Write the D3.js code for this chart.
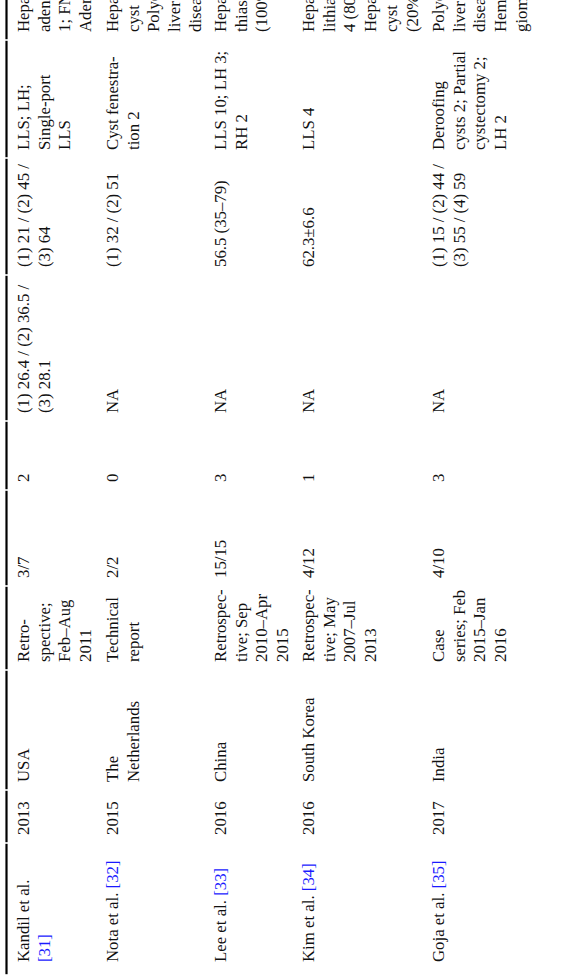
<!DOCTYPE html>
<html>
<head>
<meta charset="utf-8">
<script src="https://cdn.jsdelivr.net/npm/d3@7"></script>
<style>
  body { margin: 0; background: #fff; }
  svg { display: block; }
</style>
</head>
<body>
<svg id="table"></svg>
<script>
const width = 572;
const height = 975;

// table content, one entry per study (cells are lists of wrapped lines)
const authors = [["Kandil et al.", "[31]"], ["Nota et al. [32]"], ["Lee et al. [33]"], ["Kim et al. [34]"], ["Goja et al. [35]"]];
const years = ["2013", "2015", "2016", "2016", "2017"];
const countries = [["USA"], ["The", "Netherlands"], ["China"], ["South Korea"], ["India"]];
const designs = [
  ["Retro-", "spective;", "Feb–Aug", "2011"],
  ["Technical", "report"],
  ["Retrospec-", "tive; Sep", "2010–Apr", "2015"],
  ["Retrospec-", "tive; May", "2007–Jul", "2013"],
  ["Case", "series; Feb", "2015–Jan", "2016"]
];
const ratios = ["3/7", "2/2", "15/15", "4/12", "4/10"];
const counts = ["2", "0", "3", "1", "3"];
const bmi = [["(1) 26.4 / (2) 36.5 /", "(3) 28.1"], ["NA"], ["NA"], ["NA"], ["NA"]];
const ages = [["(1) 21 / (2) 45 /", "(3) 64"], ["(1) 32 / (2) 51"], ["56.5 (35–79)"], ["62.3±6.6"], ["(1) 15 / (2) 44 /", "(3) 55 / (4) 59"]];
const procedures = [
  ["LLS; LH;", "Single-port", "LLS"],
  ["Cyst fenestra-", "tion 2"],
  ["LLS 10; LH 3;", "RH 2"],
  ["LLS 4"],
  ["Deroofing", "cysts 2; Partial", "cystectomy 2;", "LH 2"]
];
const indications = [
  ["Hepatic", "adenoma", "1; FNH 1;", "Adenoma"],
  ["Hepatic", "cyst 1;", "Polycystic", "liver", "disease 1"],
  ["Hepatolithiasis", "thiasis 15", "(100%)"],
  ["Hepatolithiasis", "lithiasis", "4 (80%);", "Hepatic", "cyst 1", "(20%)"],
  ["Polycystic", "liver", "disease 2;", "Heman-", "gioma 2"]
];

const columns = [authors, years.map(d => [d]), countries, designs, ratios.map(d => [d]),
  counts.map(d => [d]), bmi, ages, procedures, indications];

// layout (rotated page: rows run left to right, columns bottom to top)
const lineStep = 20.7;
const rowStart = [29, 118, 226, 314, 444];
const colStart = [962, 835, 782, 662, 578, 482, 413, 267, 150, 32];

const xRow = d3.scaleOrdinal().domain(d3.range(authors.length)).range(rowStart);
const yCol = d3.scaleOrdinal().domain(d3.range(columns.length)).range(colStart);

const svg = d3.select("#table")
  .attr("width", width)
  .attr("height", height)
  .style("font-family", "'Liberation Serif', 'DejaVu Serif', serif")
  .style("font-size", "16.8px");

// left rule, broken at each header column boundary
const gaps = colStart.slice(1).map(y => y + 8).reverse();
const bounds = [0, ...gaps, height];
svg.selectAll(".rule")
  .data(d3.range(bounds.length - 1))
  .enter()
  .append("line")
  .attr("class", "rule")
  .attr("x1", 6.5).attr("x2", 6.5)
  .attr("y1", i => bounds[i] + (i ? 0.8 : 0))
  .attr("y2", i => bounds[i + 1] - 0.8)
  .attr("stroke", "#000")
  .attr("stroke-width", 2.2);

const cells = [];
columns.forEach((col, c) => col.forEach((lines, r) => cells.push({ c, r, lines })));

svg.selectAll(".cell")
  .data(cells)
  .enter()
  .append("g")
  .attr("class", "cell")
  .attr("transform", d => `translate(${xRow(d.r)},${yCol(d.c)}) rotate(-90)`)
  .each(function(d) {
    const g = d3.select(this);
    d.lines.forEach((line, i) => {
      const t = g.append("text").attr("x", 0).attr("y", i * lineStep).attr("fill", "#111");
      const m = line.match(/^(.*?)(\[\d+\])$/);
      if (d.c === 0 && m) {
        if (m[1]) t.append("tspan").text(m[1]);
        t.append("tspan").attr("fill", "#1a1aff").text(m[2]);
      } else {
        t.text(line);
      }
    });
  });
</script>
</body>
</html>
